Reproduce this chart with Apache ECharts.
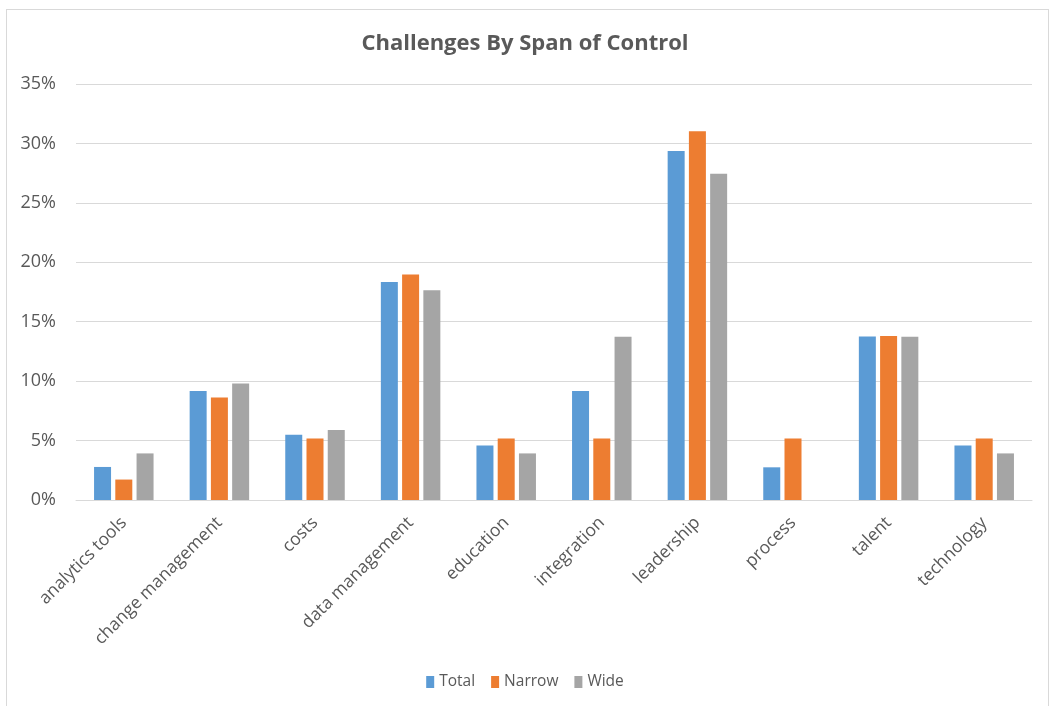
<!DOCTYPE html>
<html>
<head>
<meta charset="utf-8">
<script src="https://cdn.jsdelivr.net/npm/echarts@6/dist/echarts.min.js"></script>
<style>
  html, body { margin: 0; padding: 0; background: #fff; }
  #chart { width: 1050px; height: 706px; }
  .frame { position: absolute; left: 6px; top: 9px; width: 1043px; height: 720px; border: 1px solid #d9d9d9; box-sizing: border-box; pointer-events: none; }
</style>
</head>
<body>
<div id="chart"></div>
<div class="frame"></div>
<script>
// categories and series values (percent)
var categories = ['analytics tools', 'change management', 'costs', 'data management', 'education',
  'integration', 'leadership', 'process', 'talent', 'technology']
var totalValues = [2.78, 9.17, 5.5, 18.35, 4.59, 9.17, 29.36, 2.75, 13.76, 4.59]
var narrowValues = [1.72, 8.62, 5.17, 18.97, 5.17, 5.17, 31.03, 5.17, 13.79, 5.17]
var wideValues = [3.92, 9.8, 5.88, 17.65, 3.92, 13.73, 27.45, 0, 13.73, 3.92]
var seriesNames = ['Total', 'Narrow', 'Wide']
var seriesColors = ['#5B9BD5', '#ED7D31', '#A5A5A5']

var fontFamily = '"Open Sans", Lato, sans-serif'
var textColor = '#595959'

var myChart = echarts.init(document.getElementById('chart'))

var dataList = [totalValues, narrowValues, wideValues]
var series = []
for (var i = 0; i < seriesNames.length; i++) {
  series.push({
    name: seriesNames[i],
    type: 'bar',
    data: dataList[i],
    barWidth: 17,
    barGap: '25%',
    itemStyle: { color: seriesColors[i] }
  })
}

var option = {
  animation: false,
  textStyle: { fontFamily: fontFamily },
  title: {
    text: 'Challenges By Span of Control',
    left: 'center',
    top: 28,
    textStyle: { fontSize: 22, fontWeight: 'bold', color: textColor, fontFamily: fontFamily }
  },
  legend: {
    data: seriesNames,
    bottom: 11,
    left: 'center',
    itemWidth: 8,
    itemHeight: 12,
    itemGap: 16,
    icon: 'rect',
    textStyle: { fontSize: 15.5, color: textColor, fontFamily: fontFamily }
  },
  grid: {
    left: 76,
    right: 18,
    top: 84,
    bottom: 206,
    containLabel: false
  },
  xAxis: {
    type: 'category',
    data: categories,
    axisTick: { show: false },
    axisLine: { show: true, lineStyle: { color: '#d9d9d9', width: 1 } },
    axisLabel: {
      interval: 0,
      rotate: 45,
      margin: 20,
      fontSize: 17.5,
      color: textColor,
      fontFamily: fontFamily
    }
  },
  yAxis: {
    type: 'value',
    min: 0,
    max: 35,
    interval: 5,
    axisLine: { show: false },
    axisTick: { show: false },
    splitLine: { lineStyle: { color: '#d9d9d9', width: 1 } },
    axisLabel: {
      fontSize: 18,
      color: textColor,
      margin: 20,
      fontFamily: fontFamily,
      formatter: function (value) {
        return value + '%'
      }
    }
  },
  series: series
}

myChart.setOption(option)
</script>
</body>
</html>
